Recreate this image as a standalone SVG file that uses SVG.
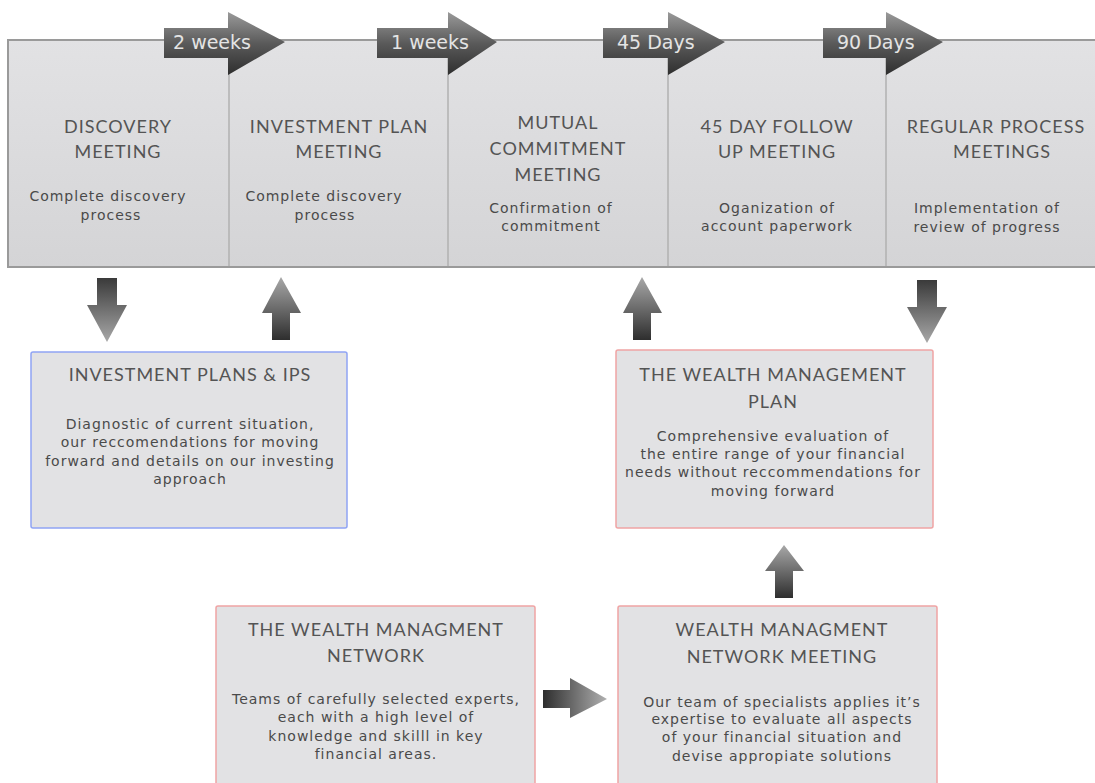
<svg xmlns="http://www.w3.org/2000/svg" width="1095" height="783" viewBox="0 0 1095 783">
<defs>
<linearGradient id="band" x1="0" y1="0" x2="0" y2="1"><stop offset="0" stop-color="#e2e2e4"/><stop offset="1" stop-color="#d4d4d6"/></linearGradient>
<linearGradient id="tl" x1="0" y1="0" x2="0" y2="1"><stop offset="0" stop-color="#9a9a9a"/><stop offset="0.5" stop-color="#5a5a5a"/><stop offset="1" stop-color="#2e2e2e"/></linearGradient>
<linearGradient id="dn" x1="0" y1="0" x2="0" y2="1"><stop offset="0" stop-color="#3a3a3a"/><stop offset="1" stop-color="#a8a8a8"/></linearGradient>
<linearGradient id="up" x1="0" y1="1" x2="0" y2="0"><stop offset="0" stop-color="#2e2e2e"/><stop offset="1" stop-color="#a8a8a8"/></linearGradient>
<linearGradient id="rt" x1="0" y1="0" x2="1" y2="0"><stop offset="0" stop-color="#2e2e2e"/><stop offset="1" stop-color="#b0b0b0"/></linearGradient>
<style>
.title{font-family:"Lato","Liberation Sans",sans-serif;font-size:18px;fill:#545454;text-anchor:middle;letter-spacing:1px}
.sub{font-family:"DejaVu Sans","Liberation Sans",sans-serif;font-size:14px;fill:#4a4a4a;text-anchor:middle;letter-spacing:1px}
.lbl{font-family:"DejaVu Sans","Liberation Sans",sans-serif;font-size:19px;fill:#e4e4e4}
.box{fill:#e2e2e4;stroke-width:1.5}
.pink{stroke:#f0a4a4}
.blue{stroke:#90a4f4}
.div{stroke:#b0b0b0;stroke-width:1.5}
</style>
</defs>
<g id="band">
<rect x="8" y="40" width="1095" height="227" fill="url(#band)" stroke="#9a9a9a" stroke-width="2"/>
<line class="div" x1="229" y1="41" x2="229" y2="266"/>
<line class="div" x1="448" y1="41" x2="448" y2="266"/>
<line class="div" x1="668" y1="41" x2="668" y2="266"/>
<line class="div" x1="886" y1="41" x2="886" y2="266"/>
</g>
<g id="timeline-arrows">
<g id="t1"><path d="M164 28 H228 V12 L285 42 L228 75 V58 H164 Z" fill="url(#tl)"/><text class="lbl" x="173" y="49">2 weeks</text></g>
<g id="t2"><path d="M377 28 H448 V12 L497 42 L448 75 V58 H377 Z" fill="url(#tl)"/><text class="lbl" x="391" y="49">1 weeks</text></g>
<g id="t3"><path d="M603 28 H668 V12 L725 42 L668 75 V58 H603 Z" fill="url(#tl)"/><text class="lbl" x="617" y="49">45 Days</text></g>
<g id="t4"><path d="M823 28 H886 V12 L943 42 L886 75 V58 H823 Z" fill="url(#tl)"/><text class="lbl" x="837" y="49">90 Days</text></g>
</g>
<g id="discovery">
<text class="title" x="118" y="133">DISCOVERY</text>
<text class="title" x="118" y="158">MEETING</text>
<text class="sub" x="108" y="201">Complete discovery</text>
<text class="sub" x="111" y="220">process</text>
</g>
<g id="investment-plan">
<text class="title" x="339" y="133">INVESTMENT PLAN</text>
<text class="title" x="339" y="158">MEETING</text>
<text class="sub" x="324" y="201">Complete discovery</text>
<text class="sub" x="325" y="220">process</text>
</g>
<g id="mutual">
<text class="title" x="558" y="129">MUTUAL</text>
<text class="title" x="558" y="155">COMMITMENT</text>
<text class="title" x="558" y="181">MEETING</text>
<text class="sub" x="551" y="213">Confirmation of</text>
<text class="sub" x="551" y="231">commitment</text>
</g>
<g id="followup">
<text class="title" x="777" y="133">45 DAY FOLLOW</text>
<text class="title" x="777" y="158">UP MEETING</text>
<text class="sub" x="777" y="213">Oganization of</text>
<text class="sub" x="777" y="231">account paperwork</text>
</g>
<g id="regular">
<text class="title" x="996" y="133">REGULAR PROCESS</text>
<text class="title" x="1002" y="158">MEETINGS</text>
<text class="sub" x="987" y="213">Implementation of</text>
<text class="sub" x="987" y="232">review of progress</text>
</g>
<g id="ips">
<rect class="box blue" x="31" y="352" width="316" height="176" rx="2"/>
<text class="title" x="190" y="381">INVESTMENT PLANS &amp; IPS</text>
<text class="sub" x="190" y="429">Diagnostic of current situation,</text>
<text class="sub" x="190" y="447">our reccomendations for moving</text>
<text class="sub" x="190" y="466">forward and details on our investing</text>
<text class="sub" x="190" y="484">approach</text>
</g>
<g id="wm-plan">
<rect class="box pink" x="616" y="350" width="317" height="178" rx="2"/>
<text class="title" x="773" y="381">THE WEALTH MANAGEMENT</text>
<text class="title" x="773" y="408">PLAN</text>
<text class="sub" x="773" y="441">Comprehensive evaluation of</text>
<text class="sub" x="773" y="459">the entire range of your financial</text>
<text class="sub" x="773" y="477">needs without reccommendations for</text>
<text class="sub" x="773" y="496">moving forward</text>
</g>
<g id="wm-network">
<rect class="box pink" x="216" y="606" width="319" height="190" rx="2"/>
<text class="title" x="376" y="636">THE WEALTH MANAGMENT</text>
<text class="title" x="376" y="662">NETWORK</text>
<text class="sub" x="376" y="704">Teams of carefully selected experts,</text>
<text class="sub" x="376" y="722">each with a high level of</text>
<text class="sub" x="376" y="741">knowledge and skilll in key</text>
<text class="sub" x="376" y="759">financial areas.</text>
</g>
<g id="wm-network-meeting">
<rect class="box pink" x="618" y="606" width="319" height="190" rx="2"/>
<text class="title" x="782" y="636">WEALTH MANAGMENT</text>
<text class="title" x="782" y="663">NETWORK MEETING</text>
<text class="sub" x="782" y="707">Our team of specialists applies it’s</text>
<text class="sub" x="782" y="724">expertise to evaluate all aspects</text>
<text class="sub" x="782" y="742">of your financial situation and</text>
<text class="sub" x="782" y="761">devise appropiate solutions</text>
</g>
<g id="connectors">
<path d="M97 278 H117 V305 H127 L107 342 L87 305 H97 Z" fill="url(#dn)"/>
<path d="M272 340 V313 H262 L281 277 L301 313 H290 V340 Z" fill="url(#up)"/>
<path d="M633 340 V313 H623 L642 277 L662 313 H651 V340 Z" fill="url(#up)"/>
<path d="M917 280 H937 V307 H947 L927 343 L907 307 H917 Z" fill="url(#dn)"/>
<path d="M775 598 V571 H765 L784 545 L804 571 H793 V598 Z" fill="url(#up)"/>
<path d="M543 690 H570 V678 L607 699 L570 718 V708 H543 Z" fill="url(#rt)"/>
</g>
</svg>
